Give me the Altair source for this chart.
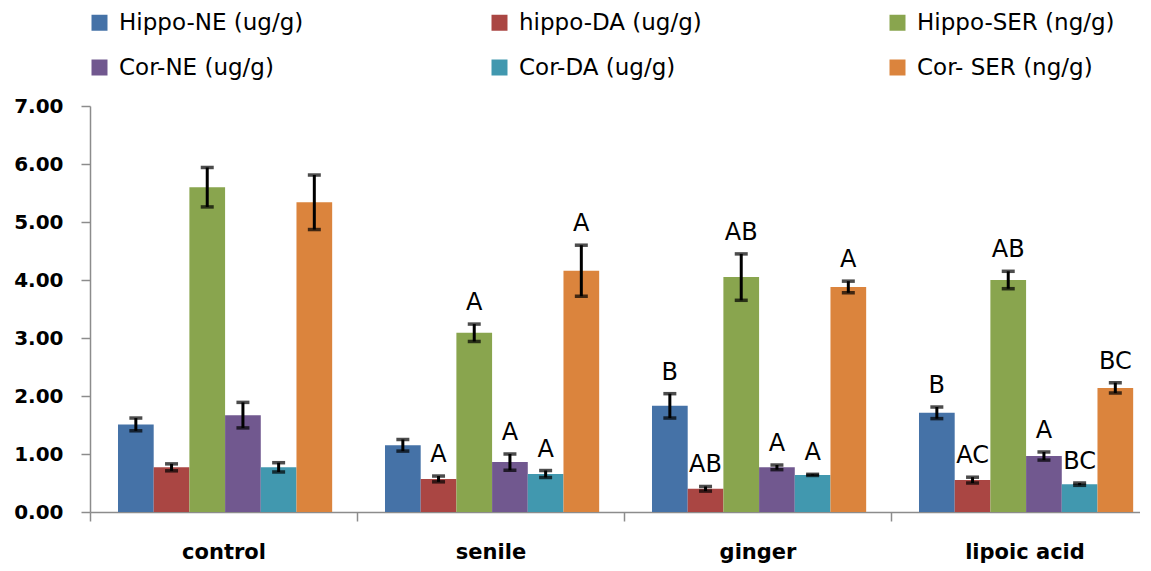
import altair as alt
import pandas as pd

groups = ["control", "senile", "ginger", "lipoic acid"]
series = ["Hippo-NE (ug/g)", "hippo-DA (ug/g)", "Hippo-SER (ng/g)",
          "Cor-NE (ug/g)", "Cor-DA (ug/g)", "Cor- SER  (ng/g)"]
colors = ["#4572A7", "#AA4643", "#89A54E", "#71588F", "#4198AF", "#DB843D"]

hippo_ne = [1.51, 1.15, 1.83, 1.71]
hippo_ne_err = [0.11, 0.10, 0.21, 0.10]
hippo_ne_sig = ["", "", "B", "B"]

hippo_da = [0.77, 0.57, 0.40, 0.55]
hippo_da_err = [0.06, 0.05, 0.04, 0.05]
hippo_da_sig = ["", "A", "AB", "AC"]

hippo_ser = [5.60, 3.09, 4.05, 4.00]
hippo_ser_err = [0.34, 0.15, 0.40, 0.15]
hippo_ser_sig = ["", "A", "AB", "AB"]

cor_ne = [1.67, 0.86, 0.77, 0.965]
cor_ne_err = [0.22, 0.14, 0.04, 0.07]
cor_ne_sig = ["", "A", "A", "A"]

cor_da = [0.77, 0.655, 0.64, 0.48]
cor_da_err = [0.08, 0.06, 0.01, 0.02]
cor_da_sig = ["", "A", "A", "BC"]

cor_ser = [5.34, 4.16, 3.88, 2.14]
cor_ser_err = [0.47, 0.44, 0.10, 0.09]
cor_ser_sig = ["", "A", "A", "BC"]

all_vals = [hippo_ne, hippo_da, hippo_ser, cor_ne, cor_da, cor_ser]
all_errs = [hippo_ne_err, hippo_da_err, hippo_ser_err, cor_ne_err, cor_da_err, cor_ser_err]
all_sigs = [hippo_ne_sig, hippo_da_sig, hippo_ser_sig, cor_ne_sig, cor_da_sig, cor_ser_sig]

rows = []
for s, vals, errs, sigs in zip(series, all_vals, all_errs, all_sigs):
    for g, v, e, l in zip(groups, vals, errs, sigs):
        rows.append({"group": g, "series": s, "value": v,
                     "low": v - e, "high": v + e, "letter": l})
df = pd.DataFrame(rows)

yscale = alt.Scale(domain=[0, 7], nice=False)

base = alt.Chart(df).encode(
    x=alt.X("group:N", sort=groups, title=None,
            scale=alt.Scale(range=[0, 1068], paddingInner=0, paddingOuter=0),
            axis=alt.Axis(tickBand="extent", labelAngle=0)),
    xOffset=alt.XOffset("series:N", sort=series,
                        scale=alt.Scale(paddingInner=0, paddingOuter=0.74, align=0.53)),
)

bars = base.mark_bar().encode(
    y=alt.Y("value:Q", scale=yscale, title=None,
            axis=alt.Axis(values=[0, 1, 2, 3, 4, 5, 6, 7], format=".2f")),
    color=alt.Color("series:N", sort=series,
                    scale=alt.Scale(domain=series, range=colors),
                    legend=alt.Legend(orient="none", legendX=-2, legendY=-95,
                                      direction="horizontal",
                                      columns=3, title=None, symbolType="square",
                                      symbolSize=256, symbolStrokeWidth=0,
                                      labelFont="DejaVu Sans", labelFontSize=23,
                                      labelColor="black", labelOffset=8,
                                      columnPadding=184, rowPadding=21,
                                      padding=0, labelLimit=400)),
)

rule = base.mark_rule(color="black", strokeWidth=3).encode(
    y=alt.Y("low:Q", scale=yscale, title=None), y2="high:Q")
cap_lo = base.mark_tick(color="black", thickness=3.5, size=13).encode(
    y=alt.Y("low:Q", scale=yscale, title=None))
cap_hi = base.mark_tick(color="black", thickness=3.5, size=13).encode(
    y=alt.Y("high:Q", scale=yscale, title=None))
text = base.transform_filter("datum.letter != ''").mark_text(
    font="DejaVu Sans", fontSize=24, dy=-14, baseline="alphabetic", color="black"
).encode(y=alt.Y("high:Q", scale=yscale, title=None), text="letter:N")

chart = alt.layer(bars, rule, cap_lo, cap_hi, text).properties(
    width=1050, height=406,
    autosize=alt.AutoSizeParams(type="none"),
    padding={"left": 82, "top": 98, "right": 0, "bottom": 52},
).configure_view(stroke=None).configure_axis(
    grid=False, domainColor="#8c8c8c", domainWidth=1.5,
    tickColor="#8c8c8c", tickWidth=1.5, tickSize=9, labelColor="black",
).configure_axisX(
    labelFont="DejaVu Sans", labelFontWeight="bold", labelFontSize=21, labelPadding=20,
).configure_axisY(
    labelFont="DejaVu Sans", labelFontWeight="bold", labelFontSize=20, labelPadding=18,
)

chart.save("out.html", embed_options={"renderer": "svg", "actions": False})
